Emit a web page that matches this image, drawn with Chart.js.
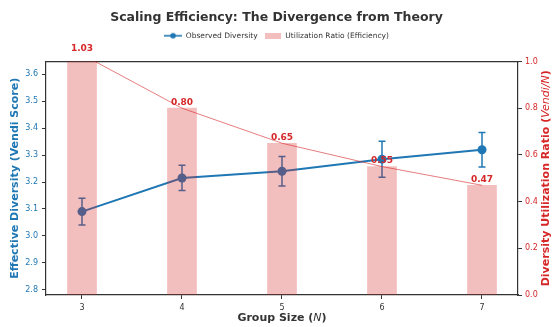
<!DOCTYPE html>
<html>
<head>
<meta charset="utf-8">
<script src="https://cdn.jsdelivr.net/npm/chart.js@4"></script>
<style>
  html, body { margin: 0; padding: 0; background: #fff; }
</style>
</head>
<body>
<canvas id="chart" width="553" height="327"></canvas>
<script>
/* ── Data ─────────────────────────────────── */
const groupSizes   = [3, 4, 5, 6, 7];
const diversity    = [3.09, 3.215, 3.24, 3.285, 3.32];
const diversityErr = [0.05, 0.047, 0.055, 0.067, 0.064];
const utilization  = [1.03, 0.80, 0.65, 0.55, 0.47];
const leftTicks    = [2.8, 2.9, 3.0, 3.1, 3.2, 3.3, 3.4, 3.5, 3.6];
const rightTicks   = [0, 0.2, 0.4, 0.6, 0.8, 1.0];

/* ── Palette ──────────────────────────────── */
const BLUE  = '#1f77b4';
const RED   = '#d62728';
const PINK  = 'rgba(214,39,40,0.3)';
const INK   = '#333333';
const FONT  = "'DejaVu Sans', sans-serif";

Chart.defaults.font.family = FONT;

/* legend markers */
function lineMarker() {
  const c = document.createElement('canvas');
  c.width = 18; c.height = 8;
  const g = c.getContext('2d');
  g.strokeStyle = BLUE; g.lineWidth = 1.6;
  g.beginPath(); g.moveTo(0, 4); g.lineTo(18, 4); g.stroke();
  g.fillStyle = BLUE;
  g.beginPath(); g.arc(9, 4, 2.8, 0, Math.PI * 2); g.fill();
  return c;
}
function boxMarker() {
  const c = document.createElement('canvas');
  c.width = 16; c.height = 6;
  const g = c.getContext('2d');
  g.fillStyle = PINK; g.fillRect(0, 0, 16, 6);
  return c;
}

/* ── Plugins ──────────────────────────────── */
const errorBars = {
  id: 'errorBars',
  afterDatasetDraw(chart, args) {
    if (args.index !== 0) return;
    const { ctx, scales: { x, y } } = chart;
    ctx.save();
    ctx.strokeStyle = BLUE;
    ctx.lineWidth = 1.5;
    groupSizes.forEach((g, i) => {
      const px = x.getPixelForValue(g);
      const top = y.getPixelForValue(diversity[i] + diversityErr[i]);
      const bot = y.getPixelForValue(diversity[i] - diversityErr[i]);
      ctx.beginPath();
      ctx.moveTo(px, top); ctx.lineTo(px, bot);
      ctx.moveTo(px - 3.5, top); ctx.lineTo(px + 3.5, top);
      ctx.moveTo(px - 3.5, bot); ctx.lineTo(px + 3.5, bot);
      ctx.stroke();
    });
    ctx.restore();
  }
};

const barLabels = {
  id: 'barLabels',
  afterDatasetsDraw(chart) {
    const { ctx, scales: { x, y1 } } = chart;
    ctx.save();
    ctx.fillStyle = RED;
    ctx.font = `bold 9px ${FONT}`;
    ctx.textAlign = 'center';
    ctx.textBaseline = 'middle';
    groupSizes.forEach((g, i) => {
      ctx.fillText(utilization[i].toFixed(2), x.getPixelForValue(g), y1.getPixelForValue(utilization[i]) - 6);
    });
    ctx.restore();
  }
};

function richText(ctx, parts, cx, cy, rot) {
  ctx.save();
  ctx.translate(cx, cy);
  ctx.rotate(rot);
  ctx.textBaseline = 'middle';
  ctx.textAlign = 'left';
  let total = 0;
  parts.forEach(p => { ctx.font = p.font; total += ctx.measureText(p.text).width; });
  let pos = -total / 2;
  parts.forEach(p => {
    ctx.font = p.font;
    ctx.fillStyle = p.color;
    ctx.fillText(p.text, pos, 0);
    pos += ctx.measureText(p.text).width;
  });
  ctx.restore();
}

const axisTitles = {
  id: 'axisTitles',
  afterDraw(chart) {
    const { ctx, chartArea: a } = chart;
    const midY = (a.top + a.bottom) / 2;
    const b = `bold 11px ${FONT}`, it = `italic 11px ${FONT}`;
    richText(ctx, [{ text: 'Effective Diversity (Vendi Score)', font: b, color: BLUE }], 15, midY, -Math.PI / 2);
    richText(ctx, [
      { text: 'Diversity Utilization Ratio (', font: b, color: RED },
      { text: 'Vendi/N', font: it, color: RED },
      { text: ')', font: b, color: RED }
    ], 546, midY, -Math.PI / 2);
    richText(ctx, [
      { text: 'Group Size (', font: b, color: INK },
      { text: 'N', font: it, color: INK },
      { text: ')', font: b, color: INK }
    ], (a.left + a.right) / 2, 318, 0);
  }
};

/* ── Chart ────────────────────────────────── */
const tickGrid = { drawOnChartArea: false, offset: false, tickLength: 4, tickColor: INK, tickWidth: 1 };
const spine = { color: INK, width: 1.2 };

new Chart(document.getElementById('chart'), {
  type: 'bar',
  data: {
    datasets: [
      {
        type: 'line',
        label: 'Observed Diversity',
        data: groupSizes.map((g, i) => ({ x: g, y: diversity[i] })),
        yAxisID: 'y',
        borderColor: BLUE,
        backgroundColor: BLUE,
        borderWidth: 2,
        pointRadius: 4.5,
        pointBorderWidth: 0,
        order: 3
      },
      {
        label: 'Utilization Ratio (Efficiency)',
        data: groupSizes.map((g, i) => ({ x: g, y: utilization[i] })),
        yAxisID: 'y1',
        backgroundColor: PINK,
        borderWidth: 0,
        barThickness: 29,
        order: 2
      },
      {
        type: 'line',
        label: 'ratio trend',
        data: groupSizes.map((g, i) => ({ x: g, y: utilization[i] })),
        yAxisID: 'y1',
        borderColor: 'rgba(214,39,40,0.6)',
        borderWidth: 1,
        pointRadius: 0,
        order: 1
      }
    ]
  },
  options: {
    responsive: false,
    animation: false,
    layout: { padding: 0 },
    plugins: {
      title: {
        display: true,
        text: 'Scaling Efficiency: The Divergence from Theory',
        color: INK,
        font: { size: 12.5, weight: 'bold' },
        padding: { top: 10, bottom: 1 }
      },
      legend: {
        labels: {
          usePointStyle: true,
          pointStyleWidth: 18,
          boxHeight: 7,
          padding: 6,
          color: INK,
          font: { size: 7.5 },
          generateLabels: () => [
            { text: 'Observed Diversity', pointStyle: lineMarker(), fillStyle: BLUE, strokeStyle: BLUE, lineWidth: 0, hidden: false, datasetIndex: 0, fontColor: INK },
            { text: 'Utilization Ratio (Efficiency)', pointStyle: boxMarker(), fillStyle: PINK, strokeStyle: PINK, lineWidth: 0, hidden: false, datasetIndex: 1, fontColor: INK }
          ]
        }
      },
      tooltip: { enabled: false }
    },
    scales: {
      x: {
        type: 'linear',
        position: 'bottom',
        offset: false,
        min: 2.64,
        max: 7.36,
        afterBuildTicks: s => { s.ticks = groupSizes.map(v => ({ value: v })); },
        afterFit: s => { s.height = 32; },
        ticks: { color: INK, font: { size: 8 }, padding: 4, callback: v => String(v) },
        grid: tickGrid,
        border: spine
      },
      x2: {
        type: 'linear',
        position: 'top',
        offset: false,
        min: 0,
        max: 1,
        afterFit: s => { s.height = 12; },
        ticks: { display: false },
        grid: { display: false, drawTicks: false },
        border: spine
      },
      y: {
        position: 'left',
        min: 2.78,
        max: 3.648,
        afterBuildTicks: s => { s.ticks = leftTicks.map(v => ({ value: v })); },
        afterFit: s => { s.width = 46; },
        ticks: { color: BLUE, font: { size: 8 }, padding: 4, callback: v => v.toFixed(1) },
        grid: tickGrid,
        border: spine
      },
      y1: {
        position: 'right',
        min: 0,
        max: 1,
        afterBuildTicks: s => { s.ticks = rightTicks.map(v => ({ value: v })); },
        afterFit: s => { s.width = 35; },
        ticks: { color: RED, font: { size: 8 }, padding: 3, callback: v => v.toFixed(1) },
        grid: tickGrid,
        border: spine
      }
    }
  },
  plugins: [errorBars, barLabels, axisTitles]
});
</script>
</body>
</html>
